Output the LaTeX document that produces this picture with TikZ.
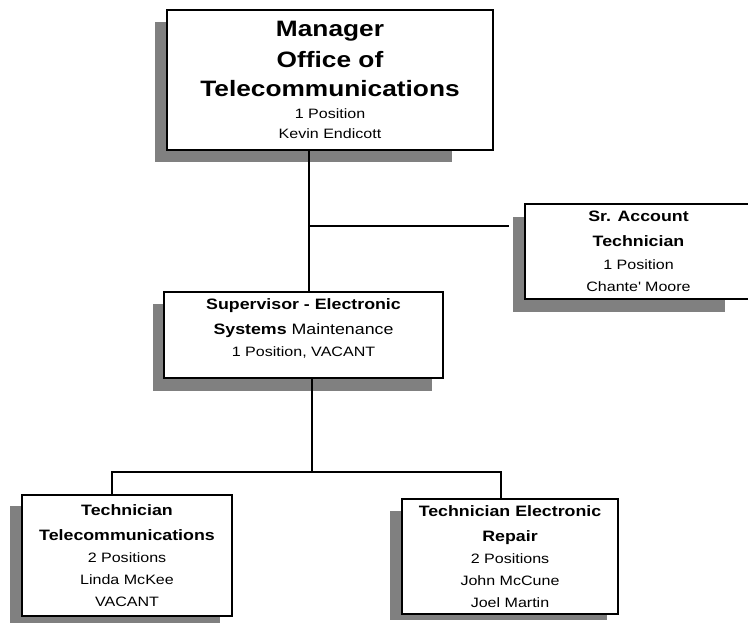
\documentclass[tikz,border=0pt]{standalone}
\usepackage{fontspec}
\setmainfont{Liberation Sans}[FakeStretch=1.18]
\definecolor{shadowgrey}{HTML}{808080}
\newcommand{\titlefont}{\fontsize{16.7pt}{21.75pt}\selectfont\bfseries}
\newcommand{\headfont}{\fontsize{11.3pt}{18.75pt}\selectfont\bfseries}
\newcommand{\namefont}{\fontsize{10.2pt}{16.5pt}\selectfont\mdseries}
\begin{document}
\begin{tikzpicture}[x=0.75pt, y=-0.75pt, drop/.style={fill=shadowgrey}]
              \path[use as bounding box, clip] (0,0) rectangle (748,625);
              \fill[drop] (155,22) rectangle (452,162);
              \fill[drop] (513,217) rectangle (725,312);
              \fill[drop] (153,304) rectangle (432,391);
              \fill[drop] (10,506) rectangle (220,623);
              \fill[drop] (390,511) rectangle (607,620);
              \begin{scope}[every node/.style={draw=black, line width=1.1pt, fill=white, align=center, inner sep=0pt, font=\namefont}]
                \node[minimum width=244.5pt, minimum height=105pt, font=\fontsize{10.2pt}{15.5pt}\selectfont] (mgr) at (330,80)
                  {\titlefont Manager\\[6.25pt]\titlefont Office of\\[6.25pt]\titlefont Telecommunications\\[1pt]1 Position\\Kevin Endicott};
                \node[minimum width=170.25pt, minimum height=71.25pt] (acct) at (638.5,251.5)
                  {\headfont Sr. Account\\[2.25pt]\headfont Technician\\[0.75pt]1 Position\\Chante\textquotesingle{} Moore};
                \node[minimum width=209.25pt, minimum height=64.5pt] (sup) at (303.5,335)
                  {\headfont Supervisor - Electronic\\[2.25pt]\headfont Systems {\mdseries Maintenance}\\
                   1 Position, VACANT\rule[-10.5pt]{0pt}{10.5pt}};
                \node[minimum width=157.5pt, minimum height=90.75pt] (tel) at (127,555.5)
                  {\headfont Technician\\[2.25pt]\headfont Telecommunications\\2 Positions\\Linda McKee\\VACANT};
                \node[minimum width=162pt, minimum height=86.25pt] (rep) at (510,556.5)
                  {\headfont Technician Electronic\\[2.25pt]\headfont Repair\\2 Positions\\John McCune\\Joel Martin};
              \end{scope}
              \coordinate (j1) at (309,226);
              \coordinate (j2) at (312,472);
              \coordinate (b1) at (112,472);
              \coordinate (b2) at (501,472);
              \begin{scope}[every edge/.style={draw=black, line width=1pt, line cap=rect}]
                \path (j1 |- mgr.south) edge (j1 |- sup.north);
                \path (j1) edge[shorten >=12pt] (acct.west |- j1);
                \path (j2 |- sup.south) edge (j2);
                \path (b1) edge (b2);
                \path (b1) edge (b1 |- tel.north);
                \path (b2) edge (b2 |- rep.north);
              \end{scope}
            \end{tikzpicture}
\end{document}
